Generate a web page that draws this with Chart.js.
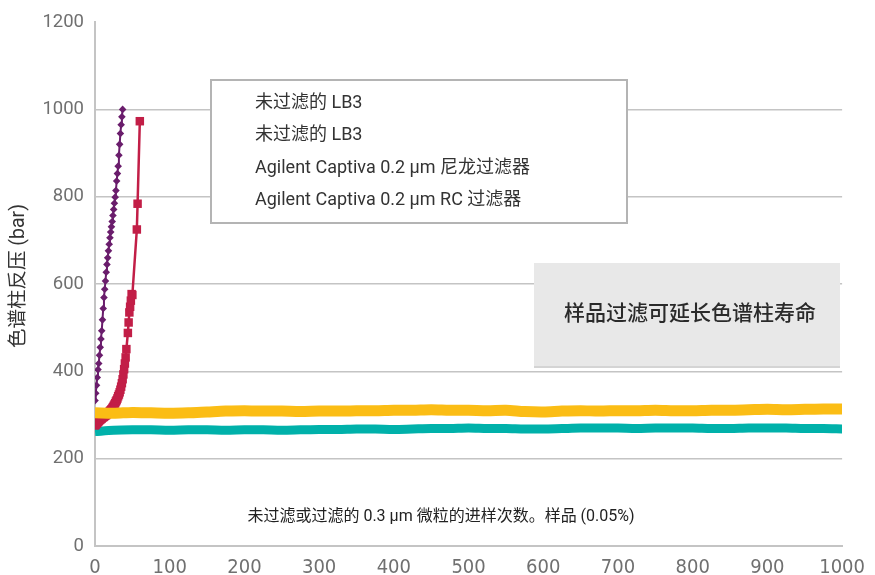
<!DOCTYPE html>
<html>
<head>
<meta charset="utf-8">
<script src="https://cdn.jsdelivr.net/npm/chart.js@4/dist/chart.umd.min.js"></script>
<style>
	html, body { margin: 0; padding: 0; background: #fff; }
	#wrap { width: 875px; height: 575px; position: relative; }
</style>
</head>
<body>
<div id="wrap"><canvas id="chart"></canvas></div>
<script>
// series names (legend box, no swatches in the original)
const seriesNames = ["未过滤的 LB3", "未过滤的 LB3", "Agilent Captiva 0.2 μm 尼龙过滤器", "Agilent Captiva 0.2 μm RC 过滤器"];
const yTitle = "色谱柱反压 (bar)";
const xNote = "未过滤或过滤的 0.3 μm 微粒的进样次数。样品 (0.05%)";
const boxNote = "样品过滤可延长色谱柱寿命";

const xTicks = [0, 100, 200, 300, 400, 500, 600, 700, 800, 900, 1000];
const yTicks = [0, 200, 400, 600, 800, 1000, 1200];

// unfiltered LB3 (purple)
const purpleX = [0, 1, 2, 3, 4, 5, 6, 7, 8, 9, 10, 11, 12, 13, 14, 15, 16, 17, 18, 19,
	20, 21, 22, 23, 24, 25, 26, 27, 28, 29, 30, 31, 32, 33, 34, 35, 36, 37];
const purpleY = [333, 350, 368, 386, 404, 418, 437, 455, 474, 493, 518, 544, 569, 588, 607, 627, 645, 660, 676, 691,
	706, 719, 731, 743, 757, 771, 785, 799, 814, 836, 853, 870, 895, 920, 945, 965, 983, 1000];

// unfiltered LB3 (red)
const redX = [0, 1, 2, 3, 4, 5, 6, 7, 8, 9, 10, 11, 12, 13, 14, 15, 16, 17, 18, 19, 20,
	21, 22, 23, 24, 25, 26, 27, 28, 29, 30, 31, 32, 33, 34, 35, 36, 37, 38, 39, 40, 41,
	42, 44, 45, 46, 47, 48, 49, 50, 56, 57, 60];
const redY = [276, 278, 280, 282, 284, 286, 288, 289, 291, 292, 294, 295, 296, 298, 299, 300, 302, 303, 305, 307, 309,
	311, 313, 315, 318, 321, 324, 327, 331, 334, 338, 343, 347, 352, 358, 365, 373, 382, 393, 405, 418, 432,
	451, 488, 512, 535, 548, 562, 577, 575, 725, 784, 973];

// filtered runs, read every 25 injections
const bandX = [0, 25, 50, 75, 100, 125, 150, 175, 200, 225, 250, 275, 300, 325, 350, 375, 400, 425, 450, 475, 500,
	525, 550, 575, 600, 625, 650, 675, 700, 725, 750, 775, 800, 825, 850, 875, 900, 925, 950, 975, 1000];
const nylonY = [305, 304, 306, 305, 304, 305, 307, 309, 310, 309, 309, 308, 309, 309, 310, 310, 311, 311, 312, 311, 311,
	310, 311, 308, 307, 309, 310, 309, 310, 310, 311, 310, 310, 311, 311, 312, 313, 312, 313, 314, 314];
const rcY = [262, 265, 266, 266, 265, 266, 266, 265, 266, 266, 265, 266, 267, 267, 268, 268, 267, 268, 269, 269, 270,
	269, 269, 268, 268, 269, 270, 270, 270, 269, 270, 270, 270, 269, 269, 270, 270, 270, 269, 269, 268];

function pts(xs, ys) {
	return xs.map(function (x, i) { return { x: x, y: ys[i] }; });
}

const cjk = "Roboto, 'Noto Sans CJK SC', sans-serif";

const notes = {
	id: "notes",
	afterDraw: function (chart) {
		const ctx = chart.ctx;
		ctx.save();
		// legend box
		ctx.fillStyle = "#fff";
		ctx.fillRect(211, 80, 416, 143);
		ctx.strokeStyle = "#b4b4b4";
		ctx.lineWidth = 2;
		ctx.strokeRect(211, 80, 416, 143);
		ctx.fillStyle = "#333";
		ctx.font = "18px " + cjk;
		ctx.textBaseline = "middle";
		ctx.textAlign = "left";
		chart.data.datasets.forEach(function (ds, i) {
			ctx.fillText(ds.label, 255, 103 + i * 32.5);
		});
		// grey call-out
		ctx.fillStyle = "#d4d4d4";
		ctx.fillRect(534, 265, 306, 103);
		ctx.fillStyle = "#e8e8e8";
		ctx.fillRect(534, 263, 306, 103);
		ctx.fillStyle = "#2a2a2a";
		ctx.font = "500 21px 'Noto Sans CJK SC', sans-serif";
		ctx.textAlign = "center";
		ctx.fillText(boxNote, 690, 312);
		// x note
		ctx.fillStyle = "#222";
		ctx.font = "16px " + cjk;
		ctx.fillText(xNote, 441, 517);
		// y title
		ctx.translate(19, 276);
		ctx.rotate(-Math.PI / 2);
		ctx.fillStyle = "#333";
		ctx.font = "19.5px " + cjk;
		ctx.fillText(yTitle, 0, 0);
		ctx.restore();
	}
};

const ctx = document.querySelector("#chart").getContext("2d");
new Chart(ctx, {
	type: "line",
	data: {
		datasets: [
			{
				label: seriesNames[0],
				data: pts(purpleX, purpleY),
				borderColor: "#6a1d6c",
				backgroundColor: "#6a1d6c",
				borderWidth: 2,
				pointStyle: "rectRot",
				pointRadius: 3.8,
				pointBorderWidth: 0,
				order: 1
			}, {
				label: seriesNames[1],
				data: pts(redX, redY),
				borderColor: "#c21e47",
				backgroundColor: "#c21e47",
				borderWidth: 2.5,
				pointStyle: "rect",
				pointRadius: 6,
				pointBorderWidth: 0,
				order: 2
			}, {
				label: seriesNames[2],
				data: pts(bandX, nylonY),
				borderColor: "#fbbd15",
				borderWidth: 11,
				pointRadius: 0,
				tension: 0.3,
				order: 0
			}, {
				label: seriesNames[3],
				data: pts(bandX, rcY),
				borderColor: "#00b1aa",
				borderWidth: 9,
				pointRadius: 0,
				tension: 0.3,
				order: 3
			}
		]
	},
	options: {
		responsive: true,
		maintainAspectRatio: false,
		animation: false,
		layout: { padding: { top: 20, right: 32, left: 0, bottom: 0 } },
		plugins: {
			legend: { display: false },
			tooltip: { enabled: false }
		},
		scales: {
			x: {
				type: "linear",
				min: 0,
				max: 1000,
				afterBuildTicks: function (s) { s.ticks = xTicks.map(function (v) { return { value: v }; }); },
				afterFit: function (s) { s.height = 29; },
				grid: { display: false, drawTicks: false },
				border: { display: true, color: "#c4c4c4", width: 2 },
				ticks: {
					padding: 10,
					color: "#707070",
					maxRotation: 0,
					callback: function (v) { return String(v); },
					font: { size: 20, family: "'Liberation Sans Narrow', 'DejaVu Sans Condensed', Roboto" }
				}
			},
			y: {
				min: 0,
				max: 1200,
				afterBuildTicks: function (s) { s.ticks = yTicks.map(function (v) { return { value: v }; }); },
				afterFit: function (s) { s.width = 95; },
				grid: {
					color: function (c) { return c.tick.value == 1200 ? "rgba(0,0,0,0)" : "#c4c4c4"; },
					lineWidth: 1.5,
					drawTicks: false
				},
				border: { display: true, color: "#c4c4c4", width: 2 },
				ticks: {
					padding: 11,
					color: "#707070",
					callback: function (v) { return String(v); },
					font: { size: 18.5, family: "Roboto" }
				}
			}
		}
	},
	plugins: [notes]
});
</script>
</body>
</html>
